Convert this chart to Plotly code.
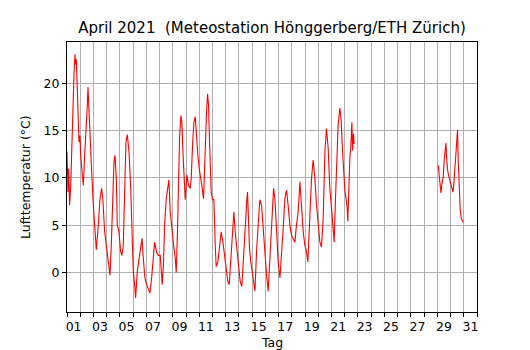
import plotly.graph_objects as go

# Day of month (1.0 = 1 April 00:00) and air temperature (deg C)
day_a = [1.0, 1.025, 1.075, 1.126, 1.20, 1.277, 1.378, 1.453, 1.529, 1.604, 1.655, 1.705,
         1.781, 1.856, 1.907, 1.98, 2.032, 2.158, 2.234, 2.335, 2.41, 2.46, 2.536, 2.587,
         2.662, 2.738, 2.864, 2.99, 3.09, 3.216, 3.367, 3.493, 3.62, 3.72, 3.846, 3.997,
         4.123, 4.249, 4.35, 4.476, 4.551, 4.627, 4.728, 4.803, 4.93, 5.055, 5.156, 5.257,
         5.357, 5.458, 5.559, 5.685, 5.811, 5.937, 6.012, 6.113, 6.189, 6.315, 6.44, 6.566,
         6.667, 6.768, 6.894, 7.02, 7.171, 7.272, 7.398, 7.524, 7.624, 7.8, 7.92, 8.05,
         8.126, 8.2, 8.3, 8.378, 8.504, 8.605, 8.705, 8.806, 8.932, 9.058, 9.184, 9.26,
         9.36, 9.436, 9.511, 9.612, 9.688, 9.763, 9.84, 9.94, 10.065, 10.19, 10.317, 10.393,
         10.494, 10.594, 10.695, 10.796, 10.897, 10.997, 11.123, 11.224, 11.325, 11.451, 11.552, 11.627,
         11.703, 11.778, 11.904, 12.005, 12.106, 12.207, 12.282, 12.408, 12.534, 12.66, 12.786, 12.912,
         13.038, 13.164, 13.265, 13.416, 13.516, 13.617, 13.718, 13.844, 13.97, 14.096, 14.222, 14.348,
         14.474, 14.6, 14.65, 14.70, 14.80, 14.90, 15.00, 15.13, 15.21, 15.33, 15.46, 15.58,
         15.71, 15.84, 15.96, 16.09, 16.21, 16.34, 16.47, 16.62, 16.72, 16.84, 16.97, 17.10,
         17.22, 17.35, 17.47, 17.60, 17.72, 17.85, 17.98, 18.10, 18.23, 18.35, 18.48, 18.61,
         18.73, 18.86, 18.98, 19.11, 19.21, 19.36, 19.49, 19.61, 19.74, 19.87, 19.99, 20.12,
         20.24, 20.37, 20.50, 20.62, 20.75, 20.87, 21.00, 21.13, 21.20, 21.30, 21.40, 21.50,
         21.63, 21.73, 21.83, 21.93, 22.01, 22.08, 22.18, 22.23, 22.31, 22.39, 22.46, 22.54,
         22.59, 22.66, 22.71]
temp_a = [12.8, 10.8, 8.5, 11.0, 7.1, 9.0, 15.0, 18.5, 21.0, 23.1, 22.0, 22.6,
          19.5, 17.0, 13.8, 14.5, 12.4, 10.3, 9.2, 12.4, 14.0, 15.6, 17.7, 19.6,
          17.0, 13.5, 10.7, 7.1, 5.0, 2.4, 5.0, 7.8, 8.9, 7.5, 4.3, 2.5,
          1.1, -0.3, 2.9, 8.9, 11.7, 12.4, 10.0, 5.0, 4.3, 2.2, 1.8, 2.9,
          10.3, 13.8, 14.6, 12.8, 9.2, 3.9, 0.1, -1.3, -2.7, 0.1, 1.5, 2.9,
          3.6, 1.5, -0.6, -1.3, -2.0, -2.2, -0.6, 1.5, 3.2, 2.0, 1.8, 1.8,
          0.1, -1.3, 1.1, 5.0, 7.8, 8.9, 9.8, 6.4, 4.3, 2.9, 1.5, 0.0,
          4.7, 10.7, 14.2, 16.6, 15.9, 12.8, 10.0, 7.7, 10.3, 9.2, 8.9, 10.0,
          13.5, 15.9, 16.5, 14.2, 12.4, 11.0, 10.0, 8.9, 7.8, 13.5, 17.0, 18.9,
          17.7, 13.8, 8.5, 7.7, 7.7, 2.9, 0.6, 1.1, 2.9, 4.3, 3.2, 1.8,
          0.1, -1.0, -1.3, 2.2, 5.0, 6.4, 4.3, 2.5, 0.8, -1.0, -1.5, 1.5,
          5.7, 7.8, 8.5, 5.4, 2.5, 1.1, 0.1, -1.0, -2.0, 2.2, 5.0, 7.7,
          7.1, 4.3, 2.2, -0.3, -2.0, 1.5, 5.0, 8.9, 7.8, 4.3, 1.1, -0.6,
          1.5, 4.7, 7.8, 8.7, 7.1, 5.0, 3.9, 3.6, 3.2, 5.0, 6.4, 9.6,
          6.8, 4.3, 2.9, 2.2, 1.1, 5.7, 10.0, 11.9, 10.0, 7.1, 5.0, 3.2,
          2.7, 5.7, 12.8, 15.2, 13.1, 8.9, 6.8, 4.7, 3.2, 7.8, 12.4, 15.6,
          17.4, 16.1, 12.9, 10.1, 8.7, 8.0, 6.9, 5.4, 9.4, 12.2, 13.3, 15.9,
          12.9, 14.7, 13.6]

day_b = [29.07, 29.15, 29.22, 29.27, 29.35, 29.45, 29.52, 29.6, 29.65, 29.7, 29.78, 29.88,
         29.98, 30.08, 30.18, 30.25, 30.35, 30.45, 30.53, 30.58, 30.66, 30.73, 30.81, 30.88,
         30.96]
temp_b = [11.35, 10.1, 9.6, 8.4, 9.4, 10.1, 11.9, 13.0, 13.7, 12.2, 10.8, 10.1,
          9.6, 9.1, 8.5, 9.4, 11.2, 13.0, 15.1, 11.9, 8.4, 6.6, 5.7, 5.4,
          5.3]

tick_days = [d + 0.5 for d in range(1, 32, 2)]
tick_text = ["%02d" % d for d in range(1, 32, 2)]
y_ticks = [0, 5, 10, 15, 20]

x_all = day_a + [None] + day_b
y_all = temp_a + [None] + temp_b

FONT = "DejaVu Sans"
FS = 12.5

fig = go.Figure()
fig.add_trace(go.Scatter(x=x_all, y=y_all, mode="lines",
                         line=dict(color="#ff0000", width=1.1), connectgaps=False,
                         showlegend=False, hoverinfo="skip"))

fig.update_layout(
    width=530, height=350,
    margin=dict(l=67, r=53, t=42, b=38, autoexpand=False),
    paper_bgcolor="white", plot_bgcolor="white",
    font=dict(family=FONT, size=FS, color="black"),
    title=dict(text="April 2021  (Meteostation Hönggerberg/ETH Zürich)",
               x=(67 + 477) / 2 / 530, xanchor="center",
               y=1 - 28 / 350, yanchor="middle", yref="container",
               font=dict(family=FONT, size=15, color="black")),
    annotations=[
        dict(text="Tag", xref="paper", yref="paper", x=0.5, y=(312 - 343) / 270,
             xanchor="center", yanchor="middle", showarrow=False,
             font=dict(family=FONT, size=FS, color="black")),
        dict(text="Lufttemperatur (°C)", xref="paper", yref="paper",
             x=(25 - 67) / 410, y=0.5, textangle=-90,
             xanchor="center", yanchor="middle", showarrow=False,
             font=dict(family=FONT, size=FS, color="black")),
    ],
)

fig.update_xaxes(
    range=[1, 32], tickmode="array", tickvals=tick_days, ticktext=tick_text,
    ticks="", showgrid=False, zeroline=False, automargin=False,
    showline=True, linecolor="black", linewidth=1, mirror=True,
    tickfont=dict(family=FONT, size=FS, color="black"), ticklabelstandoff=3,
    minor=dict(tickmode="linear", tick0=1, dtick=1, ticks="outside", ticklen=4,
               tickcolor="black", tickwidth=1, showgrid=True,
               gridcolor="#b0b0b0", gridwidth=1),
)
fig.update_yaxes(
    range=[-4.2, 24.4], tickmode="array", tickvals=y_ticks,
    ticks="outside", ticklen=4, tickcolor="black", tickwidth=1,
    showgrid=True, gridcolor="#b0b0b0", gridwidth=1, zeroline=False, automargin=False,
    showline=True, linecolor="black", linewidth=1, mirror=True,
    tickfont=dict(family=FONT, size=FS, color="black"),
)

fig.write_html("out.html", config={"displayModeBar": False, "staticPlot": True},
               post_script="document.body.style.margin='0';")
